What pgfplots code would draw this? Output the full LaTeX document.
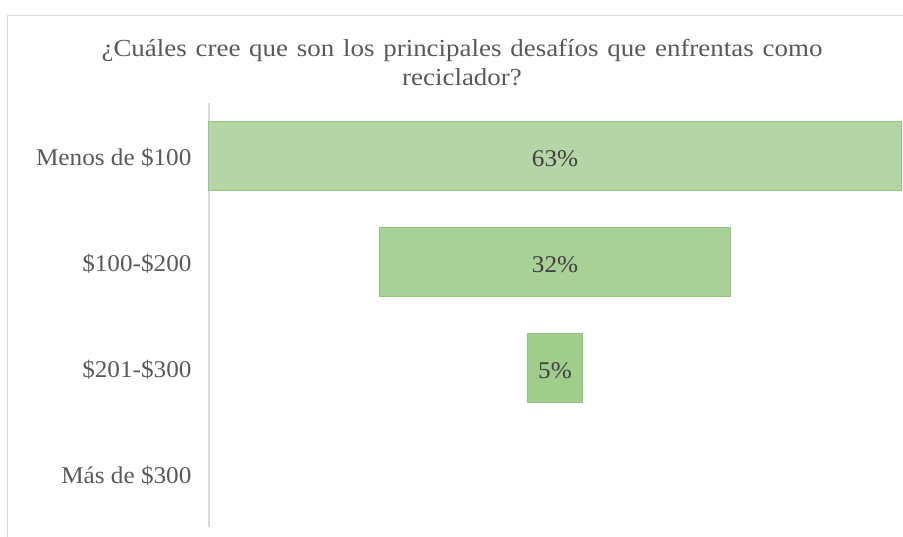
\documentclass[border=0pt]{standalone}
\usepackage{pgfplots}
\pgfplotsset{compat=1.18}
\usepackage{fontspec}
\setmainfont{Liberation Serif}
\newfontfamily\wide[FakeStretch=1.05]{Liberation Serif}
\newfontfamily\wider[FakeStretch=1.1, WordSpace=1.3]{Liberation Serif}

\definecolor{txt}{HTML}{595959}
\definecolor{lbl}{HTML}{404040}
\definecolor{frame}{HTML}{D9D9D9}
\definecolor{barA}{RGB}{181,213,166}
\definecolor{barB}{RGB}{169,208,150}
\definecolor{barC}{RGB}{160,204,140}
\definecolor{edge}{RGB}{146,198,124}

% same box for every layer of the funnel
\pgfplotsset{
  funnel/.style={
    at={(209pt,10pt)}, anchor=south west,
    scale only axis, width=692pt, height=424pt,
    xmin=0, xmax=63, ymin=-0.5, ymax=3.5,
    y dir=reverse, clip=false,
  },
  layer/.style={funnel, hide axis, xbar stacked, bar width=0.65},
}

\begin{document}
\begin{tikzpicture}
\useasboundingbox (0,0) rectangle (903pt,537pt);
\draw[frame, line width=1pt] (7.5pt,-20pt) rectangle (960pt,521.5pt);

\node[align=center, text=txt, font=\wider\fontsize{24.5}{29}\selectfont]
  at (462pt,474pt) {¿Cuáles cree que son los principales desafíos que enfrentas como\\reciclador?};

% axis with category labels and first stage
\begin{axis}[funnel, xbar stacked, bar width=0.65,
    axis x line=none, axis y line*=left,
    y axis line style={draw=frame, line width=1.3pt},
    ytick={0,1,2,3},
    yticklabels={Menos de \$100, \$100-\$200, \$201-\$300, Más de \$300},
    major tick length=0pt,
    yticklabel style={text=txt, font=\wide\fontsize{24}{28}\selectfont, xshift=-14pt, yshift=-2pt},
  ]
  \addplot[draw=none, fill=none] coordinates {(0,0)};
  \addplot[fill=barA, draw=edge, line width=1pt] coordinates {(63,0)};
\end{axis}

\begin{axis}[layer]
  \addplot[draw=none, fill=none] coordinates {(15.5,1)};
  \addplot[fill=barB, draw=edge, line width=1pt] coordinates {(32,1)};
\end{axis}

\begin{axis}[layer]
  \addplot[draw=none, fill=none] coordinates {(29,2)};
  \addplot[fill=barC, draw=edge, line width=1pt] coordinates {(5,2)};
\end{axis}

% data labels
\begin{axis}[funnel, hide axis]
  \addplot[draw=none, mark=none,
    point meta=explicit symbolic, nodes near coords,
    nodes near coords style={anchor=center, text=lbl, font=\wide\fontsize{24}{28}\selectfont, yshift=-3pt}]
    coordinates {(31.5,0) [63\%] (31.5,1) [32\%] (31.5,2) [5\%]};
\end{axis}
\end{tikzpicture}
\end{document}
